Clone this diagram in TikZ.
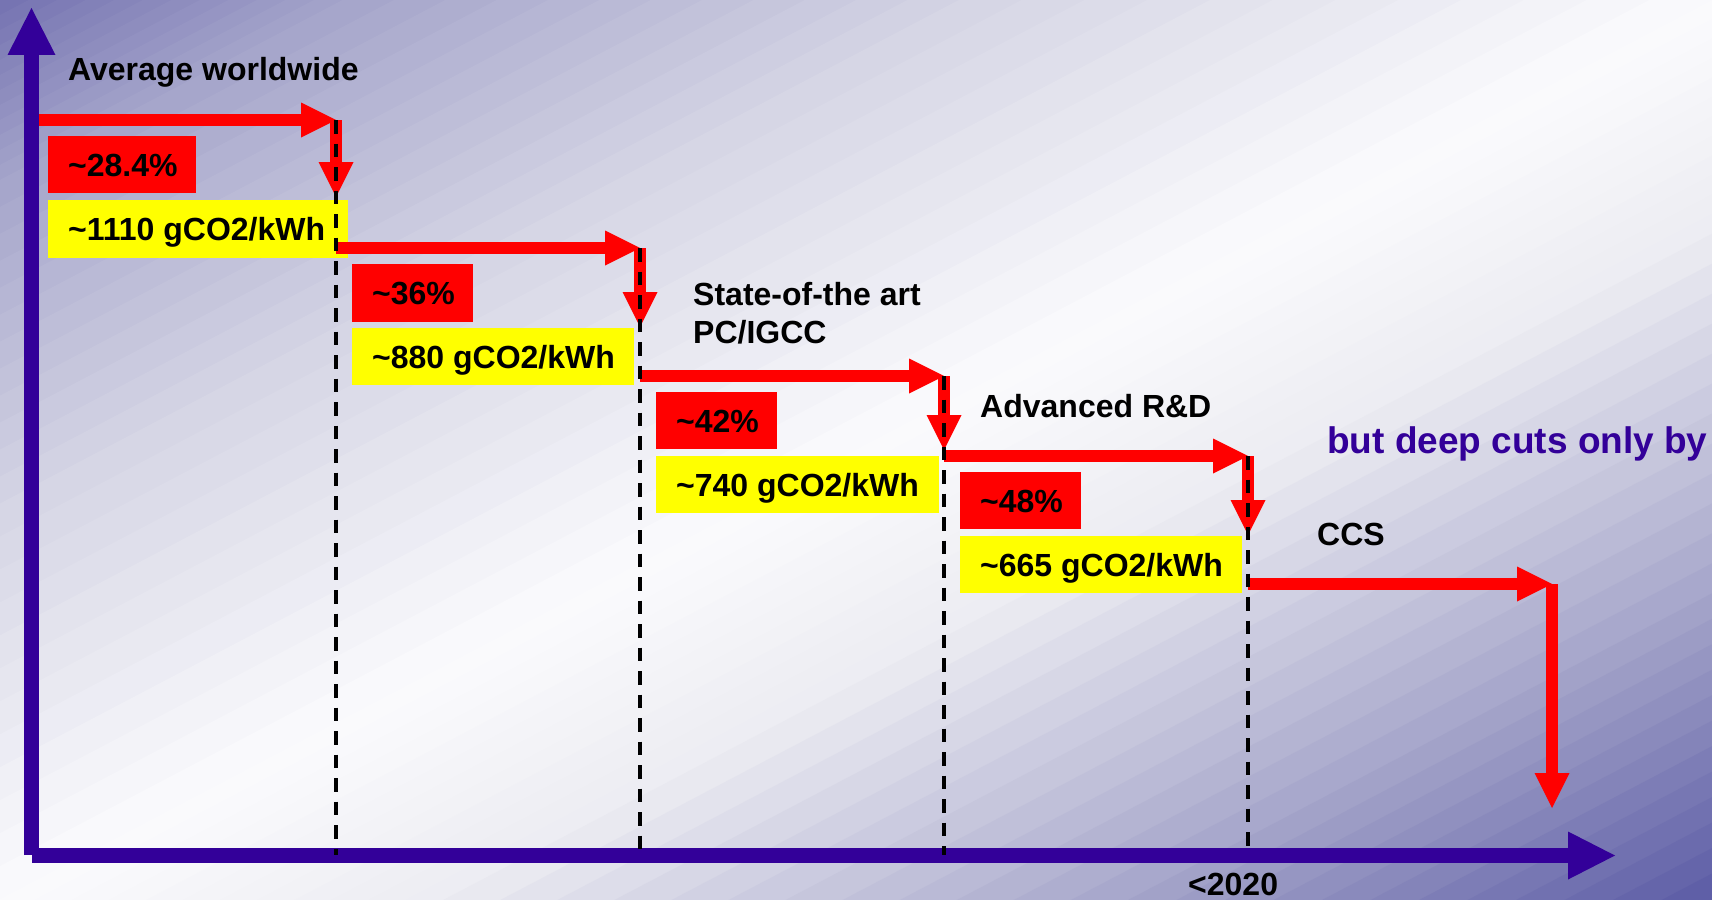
\documentclass[tikz,border=0pt]{standalone}
\usepackage{fontspec}
\setmainfont{Liberation Sans}
\usetikzlibrary{arrows.meta}
\definecolor{axisc}{HTML}{330099}
\definecolor{boxred}{HTML}{FF0000}
\definecolor{boxyel}{HTML}{FFFF00}
\definecolor{bgA}{RGB}{116,114,177}
\definecolor{bgB}{RGB}{164,164,202}
\definecolor{bgC}{RGB}{212,212,228}
\definecolor{bgD}{RGB}{251,251,253}
\definecolor{bgE}{RGB}{236,236,242}
\definecolor{bgF}{RGB}{165,165,202}
\definecolor{bgG}{RGB}{92,92,165}
\tikzset{
  redarr/.style={draw=boxred, line width=12pt, -{Triangle[length=35pt,width=35pt,line width=0pt]}},
  axisarr/.style={draw=axisc, line width=15pt, -{Triangle[length=47pt,width=48pt,line width=0pt]}},
  dashline/.style={draw=black, line width=4pt, dash pattern=on 13.5pt off 10pt},
  rbox/.style={fill=boxred, anchor=north west, inner sep=0pt, minimum height=57pt},
  ybox/.style={fill=boxyel, anchor=north west, inner sep=0pt, minimum height=57pt},
  lbl/.style={anchor=base west, inner sep=0pt, font=\bfseries\fontsize{32}{38}\selectfont},
}
\begin{document}
\begin{tikzpicture}[x=1pt,y=-1pt]
\useasboundingbox (0,0) rectangle (1712,899);
% background gradient
\begin{scope}
\clip (0,0) rectangle (1712,899);
\foreach \ta/\tb/\ca/\cb in {0/0.1/bgA/bgB, 0.1/0.28/bgB/bgC, 0.28/0.5/bgC/bgD, 0.5/0.63/bgD/bgE, 0.63/0.83/bgE/bgF, 0.83/1/bgF/bgG}{
  \foreach \k in {0,...,11}{
    \pgfmathsetmacro{\sa}{\ta+(\tb-\ta)*\k/12}
    \pgfmathsetmacro{\sb}{\ta+(\tb-\ta)*(\k+1)/12+0.003}
    \pgfmathsetmacro{\pc}{(\k+0.5)/12*100}
    \fill[\cb!\pc!\ca] (2*\sa*1712,0) -- (0,2*\sa*899) -- (0,2*\sb*899) -- (2*\sb*1712,0) -- cycle;
  }
}
\end{scope}

% coordinates
\coordinate (yo) at (31.5,855);
\coordinate (ytip) at (31.5,8);
\coordinate (xo) at (32,855.5);
\coordinate (xtip) at (1615,855.5);
\coordinate (s0) at (39,120);
\coordinate (c1) at (336,120);   \coordinate (b1) at (336,197);
\coordinate (s1) at (336,248);   \coordinate (c2) at (640,248);  \coordinate (b2) at (640,327);
\coordinate (s2) at (640,376);   \coordinate (c3) at (944,376);  \coordinate (b3) at (944,450);
\coordinate (s3) at (944,456);   \coordinate (c4) at (1248,456); \coordinate (b4) at (1248,535);
\coordinate (s4) at (1248,584);  \coordinate (c5) at (1552,584); \coordinate (b5) at (1552,808);
\coordinate (e1) at (336,855);
\coordinate (e2) at (640,855);
\coordinate (e3) at (944,855);
\coordinate (e4) at (1248,855);

% axes
\draw[axisarr] (yo) -- (ytip);
\draw[axisarr] (xo) -- (xtip);

% boxes
\node[rbox, minimum width=148pt] (r1) at (48,136) {};
\node[ybox, minimum width=300pt, minimum height=58pt] (y1) at (48,200) {};
\node[rbox, minimum width=121pt, minimum height=58pt] (r2) at (352,264) {};
\node[ybox, minimum width=282pt] (y2) at (352,328) {};
\node[rbox, minimum width=121pt] (r3) at (656,392) {};
\node[ybox, minimum width=283pt] (y3) at (656,456) {};
\node[rbox, minimum width=121pt] (r4) at (960,472) {};
\node[ybox, minimum width=282pt] (y4) at (960,536) {};

\node[lbl] (r1t) at ([xshift=20pt,yshift=-11.5pt]r1.west) {\textasciitilde 28.4\%};
\node[lbl] (y1t) at ([xshift=20pt,yshift=-11.5pt]y1.west) {\textasciitilde 1110 gCO2/kWh};
\node[lbl] (r2t) at ([xshift=20pt,yshift=-11.5pt]r2.west) {\textasciitilde 36\%};
\node[lbl] (y2t) at ([xshift=20pt,yshift=-11.5pt]y2.west) {\textasciitilde 880 gCO2/kWh};
\node[lbl] (r3t) at ([xshift=20pt,yshift=-11.5pt]r3.west) {\textasciitilde 42\%};
\node[lbl] (y3t) at ([xshift=20pt,yshift=-11.5pt]y3.west) {\textasciitilde 740 gCO2/kWh};
\node[lbl] (r4t) at ([xshift=20pt,yshift=-11.5pt]r4.west) {\textasciitilde 48\%};
\node[lbl] (y4t) at ([xshift=20pt,yshift=-11.5pt]y4.west) {\textasciitilde 665 gCO2/kWh};

% red step arrows
\draw[redarr] (s0) -- (c1);
\draw[redarr] (c1) -- (b1);
\draw[redarr] (s1) -- (c2);
\draw[redarr] (c2) -- (b2);
\draw[redarr] (s2) -- (c3);
\draw[redarr] (c3) -- (b3);
\draw[redarr] (s3) -- (c4);
\draw[redarr] (c4) -- (b4);
\draw[redarr] (s4) -- (c5);
\draw[redarr] (c5) -- (b5);

% dashed lines
\draw[dashline] (c1) -- (e1);
\draw[dashline] (c2) -- (e2);
\draw[dashline] (c3) -- (e3);
\draw[dashline] (c4) -- (e4);

% labels
\node[lbl] (avg) at (68,81) {Average worldwide};
\node[lbl] (sota1) at (693,305) {State-of-the art};
\node[lbl] (sota2) at (693,343) {PC/IGCC};
\node[lbl] (adv) at (980,417) {Advanced R\&D};
\node[lbl] (ccs) at (1317,545) {CCS};
\node[lbl, text=axisc, font=\bfseries\fontsize{37}{44}\selectfont] (deep) at (1327,453) {but deep cuts only by};
\node[lbl] (yr) at (1188,895) {<2020};
\end{tikzpicture}
\end{document}
